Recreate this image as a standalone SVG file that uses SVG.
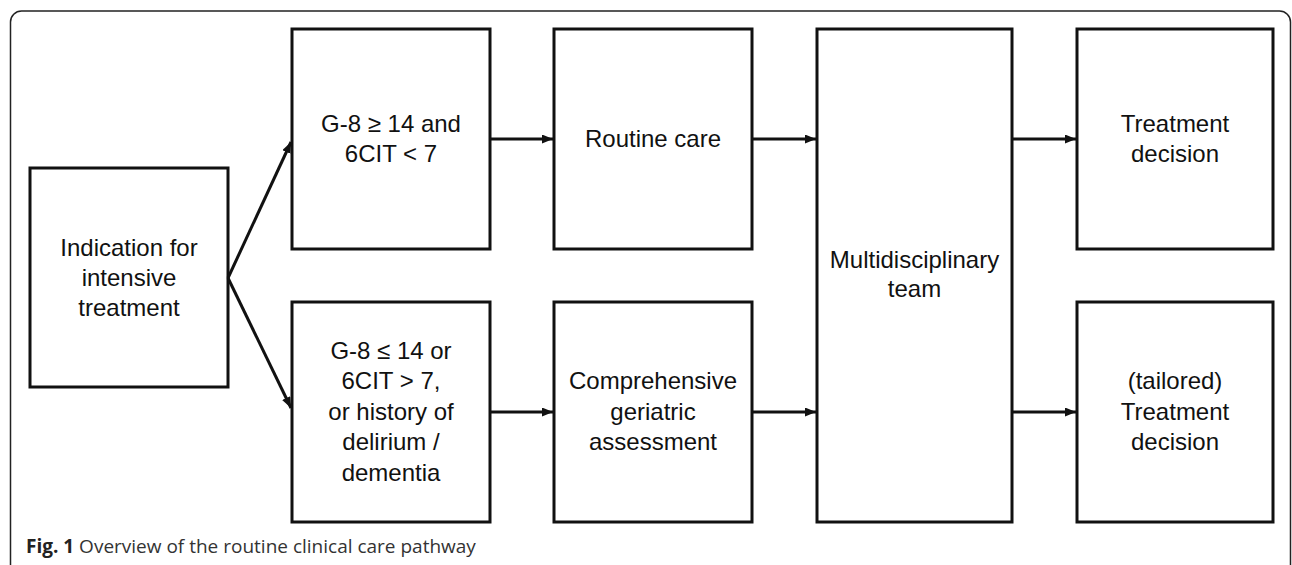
<svg xmlns="http://www.w3.org/2000/svg" width="1292" height="565" viewBox="0 0 1292 565">
<style>
.box{fill:#fff;stroke:#111;stroke-width:3}
.t{font-family:"Liberation Sans",Arial,sans-serif;font-size:24px;fill:#111;text-anchor:middle}
.c{stroke:#111;stroke-width:3;fill:none;marker-end:url(#ah)}
.cap{font-family:"Open Sans","Liberation Sans",sans-serif;font-size:19px;fill:#333}
</style>
<defs>
<marker id="ah" markerUnits="userSpaceOnUse" markerWidth="11" markerHeight="9" refX="11" refY="4.5" orient="auto">
<path d="M0,0 L11,4.5 L0,9 z" fill="#111"/>
</marker>
</defs>
<rect width="1292" height="565" fill="#fff"/>
<rect x="10.5" y="11" width="1280" height="620" rx="11" fill="none" stroke="#222" stroke-width="1.5"/>

<g id="n-indication">
<rect class="box" x="30" y="168" width="198" height="219"/>
<text class="t" x="129" y="256">Indication for</text>
<text class="t" x="129" y="286">intensive</text>
<text class="t" x="129" y="316">treatment</text>
</g>
<g id="n-g8high">
<rect class="box" x="292" y="29" width="198" height="220"/>
<text class="t" x="391" y="132">G-8 ≥ 14 and</text>
<text class="t" x="391" y="162">6CIT &lt; 7</text>
</g>
<g id="n-g8low">
<rect class="box" x="292" y="302" width="198" height="220"/>
<text class="t" x="391" y="358.5">G-8 ≤ 14 or</text>
<text class="t" x="391" y="389">6CIT &gt; 7,</text>
<text class="t" x="391" y="419.5">or history of</text>
<text class="t" x="391" y="450">delirium /</text>
<text class="t" x="391" y="480.5">dementia</text>
</g>
<g id="n-routine">
<rect class="box" x="554" y="29" width="198" height="220"/>
<text class="t" x="653" y="147">Routine care</text>
</g>
<g id="n-cga">
<rect class="box" x="554" y="302" width="198" height="220"/>
<text class="t" x="653" y="389">Comprehensive</text>
<text class="t" x="653" y="419.5">geriatric</text>
<text class="t" x="653" y="450">assessment</text>
</g>
<g id="n-mdt">
<rect class="box" x="817" y="29" width="195" height="493"/>
<text class="t" x="914.5" y="268">Multidisciplinary</text>
<text class="t" x="914.5" y="297">team</text>
</g>
<g id="n-decision">
<rect class="box" x="1077" y="29" width="196" height="220"/>
<text class="t" x="1175" y="132">Treatment</text>
<text class="t" x="1175" y="162">decision</text>
</g>
<g id="n-tailored">
<rect class="box" x="1077" y="302" width="196" height="220"/>
<text class="t" x="1175" y="389">(tailored)</text>
<text class="t" x="1175" y="419.5">Treatment</text>
<text class="t" x="1175" y="450">decision</text>
</g>

<g id="connectors">
<line class="c" x1="228" y1="278" x2="291" y2="142"/>
<line class="c" x1="228" y1="278" x2="291" y2="408"/>
<line class="c" x1="490" y1="139" x2="553" y2="139"/>
<line class="c" x1="752" y1="139" x2="816" y2="139"/>
<line class="c" x1="1012" y1="139" x2="1076" y2="139"/>
<line class="c" x1="490" y1="412" x2="553" y2="412"/>
<line class="c" x1="752" y1="412" x2="816" y2="412"/>
<line class="c" x1="1012" y1="412" x2="1076" y2="412"/>
</g>

<text class="cap" x="26" y="553"><tspan font-weight="bold" fill="#222">Fig. 1</tspan> Overview of the routine clinical care pathway</text>
</svg>
